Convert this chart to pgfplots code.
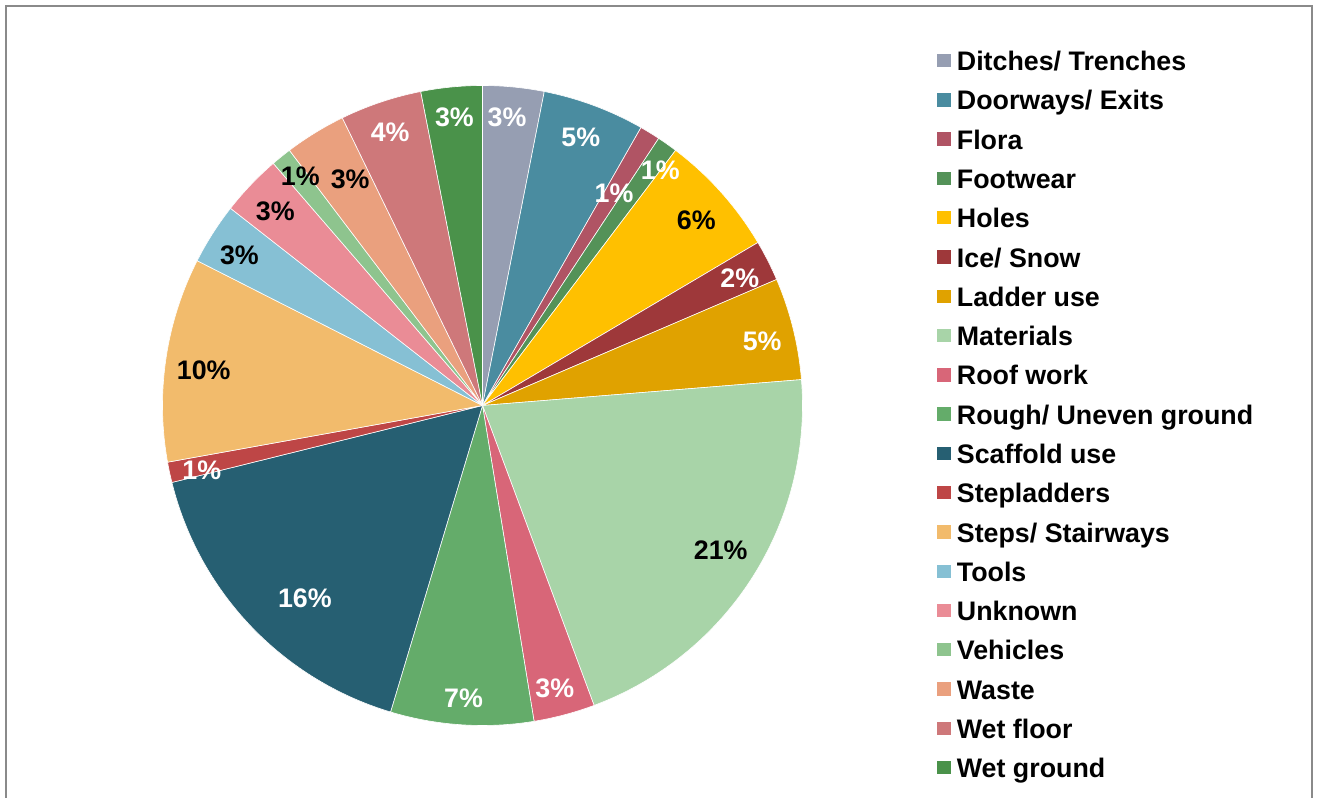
\documentclass[border=0pt]{standalone}
\usepackage{pgfplots}
\pgfplotsset{compat=1.18}
\usepackage{fontspec}
\setmainfont{Liberation Sans}
\newcommand\lbfont{\bfseries\fontsize{13.4}{15}\selectfont}
\definecolor{cDitch}{HTML}{969EB2}
\definecolor{cDoor}{HTML}{4A8CA0}
\definecolor{cFlora}{HTML}{B05464}
\definecolor{cFoot}{HTML}{549258}
\definecolor{cHoles}{HTML}{FFC000}
\definecolor{cIce}{HTML}{9E383A}
\definecolor{cLadder}{HTML}{E0A200}
\definecolor{cMat}{HTML}{A8D4A8}
\definecolor{cRoof}{HTML}{D86678}
\definecolor{cRough}{HTML}{64AC6A}
\definecolor{cScaff}{HTML}{265F72}
\definecolor{cStepl}{HTML}{BE4646}
\definecolor{cSteps}{HTML}{F2BB6C}
\definecolor{cTools}{HTML}{86C0D4}
\definecolor{cUnk}{HTML}{EA8C96}
\definecolor{cVeh}{HTML}{8EC48E}
\definecolor{cWaste}{HTML}{EAA07E}
\definecolor{cWetF}{HTML}{CE787A}
\definecolor{cWetG}{HTML}{4A924A}
\definecolor{frame}{HTML}{8A8A8A}
\tikzset{pielabel/.style={font=\lbfont, inner sep=0pt, anchor=center}}
\def\total{97}
\def\cum{0}
\def\labels{}
% #1 count, #2 colour, #3 name, #4 label colour, #5 label radius, #6 label angle offset
\newcommand\slice[6]{%
  \pgfmathsetmacro\sA{90-\cum*(360/\total)}%
  \pgfmathsetmacro\newcum{\cum+#1}%
  \pgfmathsetmacro\sB{90-\newcum*(360/\total)}%
  \pgfmathsetmacro\sM{(\sA+\sB)/2+#6}%
  \pgfmathsetmacro\lx{#5*cos(\sM)}%
  \pgfmathsetmacro\ly{#5*sin(\sM)}%
  \pgfmathtruncatemacro\pct{round(#1*(100/\total))}%
  \edef\doit{%
    \noexpand\addplot[fill=#2, draw=white, line width=0.3pt, domain=\sB:\sA, samples=80]
      ({320*cos(x)},{320*sin(x)}) -- (0,0) -- cycle;
    \noexpand\addlegendentry{#3}
  }%
  \doit
  \xdef\labels{\unexpanded\expandafter{\labels}%
    \noexpand\node[pielabel, text=#4] at (axis cs:\lx,\ly) {\pct\noexpand\%};}%
  \xdef\cum{\newcum}%
}
\begin{document}
\begin{tikzpicture}
\begin{axis}[
  scale only axis, width=659.5pt, height=399pt,
  xmin=-482.5, xmax=836.5, ymin=-392.5, ymax=405.5,
  hide axis, clip=false,
  legend image code/.code={\fill[#1, draw=none] (0pt,1.7pt) rectangle (7.1pt,8.4pt);},
  legend style={at={(axis cs:454.2,354.8)}, anchor=north west, draw=none, fill=none,
    inner sep=0pt, outer sep=0pt, row sep=6.64pt, column sep=3.0pt,
    font=\lbfont,
    nodes={inner sep=0pt, text height=10pt, text depth=3pt},
    cells={anchor=base west}},
]
\draw[frame, line width=1pt] (axis cs:-476.5,-392.5) -- (axis cs:-476.5,399) -- (axis cs:829.8,399) -- (axis cs:829.8,-392.5);
\slice{3}{cDitch}{Ditches/ Trenches}{white}{289}{0.7}
\slice{5}{cDoor}{Doorways/ Exits}{white}{286}{0.3}
\slice{1}{cFlora}{Flora}{white}{250}{-0.2}
\slice{1}{cFoot}{Footwear}{white}{295}{-1.8}
\slice{6}{cHoles}{Holes}{black}{283}{-0.8}
\slice{2}{cIce}{Ice/ Snow}{white}{287}{-0.6}
\slice{5}{cLadder}{Ladder use}{white}{287}{-0.9}
\slice{20}{cMat}{Materials}{black}{279}{1.1}
\slice{3}{cRoof}{Roof work}{white}{292}{-0.5}
\slice{7}{cRough}{Rough/ Uneven ground}{white}{293}{0}
\slice{16}{cScaff}{Scaffold use}{white}{262}{3.7}
\slice{1}{cStepl}{Stepladders}{white}{288}{0.9}
\slice{10}{cSteps}{Steps/ Stairways}{black}{281}{1.1}
\slice{3}{cTools}{Tools}{black}{286}{0.7}
\slice{3}{cUnk}{Unknown}{black}{284}{0.45}
\slice{1}{cVeh}{Vehicles}{black}{293}{-0.5}
\slice{3}{cWaste}{Waste}{black}{262}{-1.2}
\slice{4}{cWetF}{Wet floor}{white}{288}{0.15}
\slice{3}{cWetG}{Wet ground}{white}{290}{0}
\labels
\end{axis}
\pgfresetboundingbox
\useasboundingbox (0,0) rectangle (659.5pt,399pt);
\end{tikzpicture}
\end{document}
